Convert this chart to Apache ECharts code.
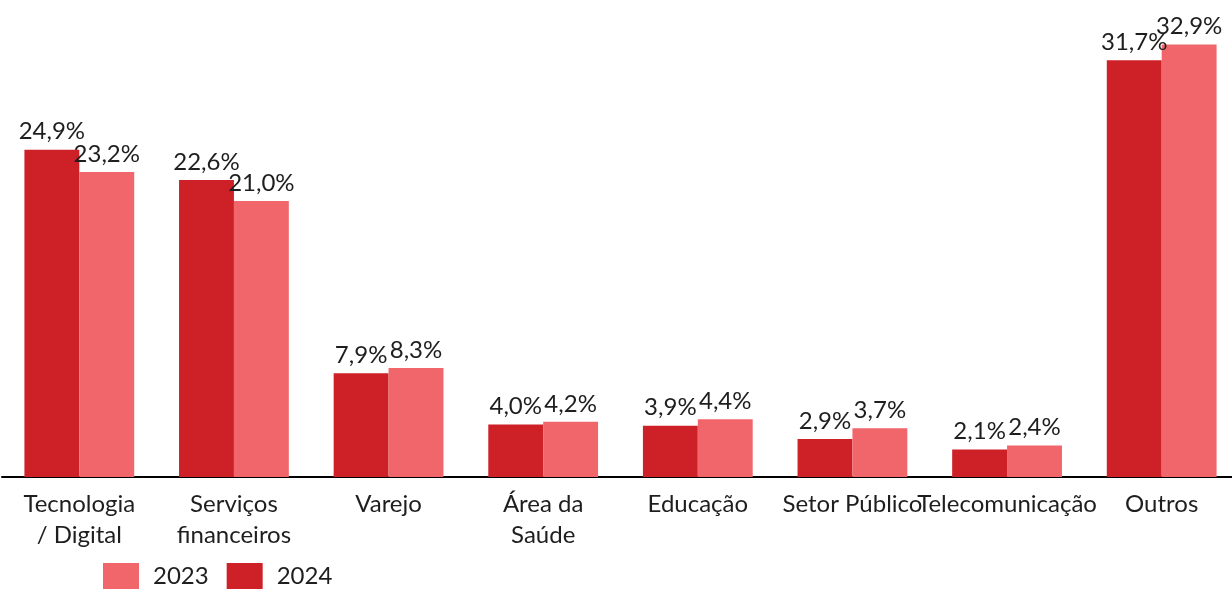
<!DOCTYPE html>
<html><head><meta charset="utf-8">
<script src="https://cdn.jsdelivr.net/npm/echarts@6/dist/echarts.min.js"></script>
<style>html,body{margin:0;padding:0;background:#fff;overflow:hidden}#c{width:1240px;height:589px}</style>
</head><body><div id="c"></div>
<script>
const categories = ['Tecnologia\n/ Digital', 'Serviços\nfinanceiros', 'Varejo', 'Área da\nSaúde', 'Educação', 'Setor Público', 'Telecomunicação', 'Outros'];
const values2024 = [24.9, 22.6, 7.9, 4.0, 3.9, 2.9, 2.1, 31.7];
const values2023 = [23.2, 21.0, 8.3, 4.2, 4.4, 3.7, 2.4, 32.9];
const seriesNames = ['2024', '2023'];
const legendOrder = ['2023', '2024'];

const FONT = 'Lato';
const fmt = p => p.value.toFixed(1).replace('.', ',') + '%';
const labelCfg = { show: true, position: 'top', distance: 6, formatter: fmt, fontFamily: FONT, fontSize: 24, color: '#1e1e1e' };

const chart = echarts.init(document.getElementById('c'));
chart.setOption({
  animation: false,
  textStyle: { fontFamily: FONT },
  grid: { left: 2, top: 17, width: 1237, height: 460, containLabel: false },
  legend: {
    data: legendOrder, left: 103, top: 563, padding: 0, itemWidth: 36, itemHeight: 27, itemGap: 18,
    icon: 'rect',
    textStyle: { fontFamily: FONT, fontSize: 24, color: '#1e1e1e', padding: [0, 0, 0, 9] }
  },
  xAxis: {
    type: 'category', data: categories,
    axisLine: { lineStyle: { color: '#000', width: 2 } },
    axisTick: { show: false },
    axisLabel: { interval: 0, hideOverlap: false, fontFamily: FONT, fontSize: 24, color: '#1e1e1e', lineHeight: 31, margin: 12 }
  },
  yAxis: { type: 'value', min: 0, max: 35, show: false, splitLine: { show: false } },
  series: [
    { name: seriesNames[0], type: 'bar', data: values2024, itemStyle: { color: '#CD2027' }, barGap: '0%', barCategoryGap: '29%', label: labelCfg },
    { name: seriesNames[1], type: 'bar', data: values2023, itemStyle: { color: '#F1666A' }, barGap: '0%', barCategoryGap: '29%', label: labelCfg }
  ]
});
</script></body></html>
